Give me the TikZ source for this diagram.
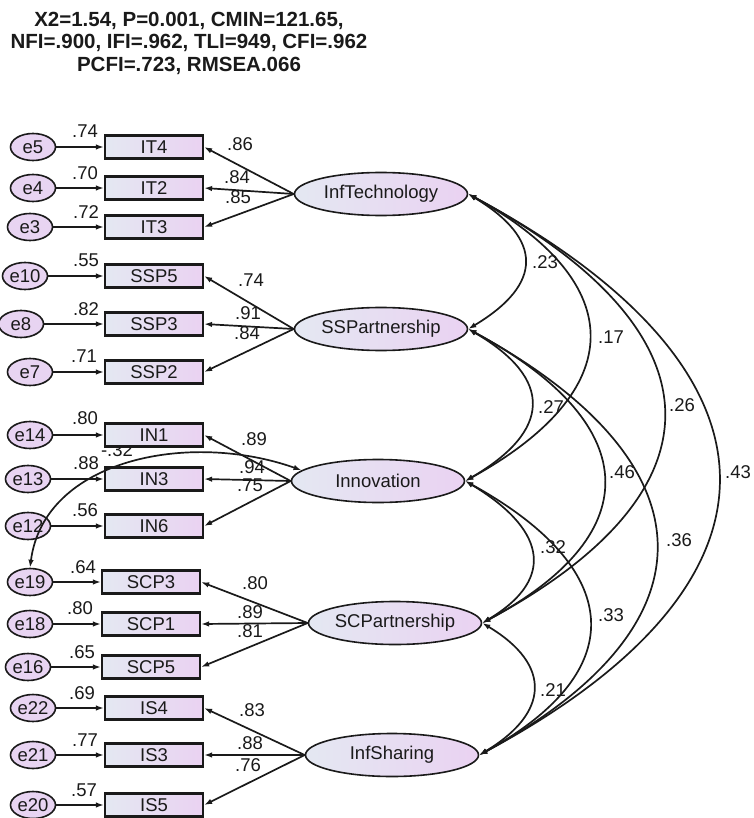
\documentclass[tikz,border=0pt]{standalone}
\usepackage{fontspec}
\setmainfont{Liberation Sans}
\usetikzlibrary{arrows.meta,shapes.geometric,positioning}
\definecolor{Ink}{HTML}{1A1A1A}
\definecolor{ShadeL}{HTML}{E4E8F2}
\definecolor{ShadeR}{HTML}{EAD2F2}
\definecolor{ErrFill}{HTML}{E8D4F2}

\begin{document}
\begin{tikzpicture}[
  x=1pt,y=-1pt,
  font=\fontsize{18.5}{20}\selectfont,
  obs/.style={rectangle,draw=Ink,line width=2.2pt,left color=ShadeL,right color=ShadeR,minimum width=98pt,minimum height=23pt,inner sep=0pt,text=Ink},
  lat/.style={ellipse,draw=Ink,line width=1.6pt,left color=ShadeL,right color=ShadeR,minimum width=173pt,minimum height=43pt,inner sep=0pt,text=Ink},
  err/.style={ellipse,draw=Ink,line width=1.6pt,fill=ErrFill,minimum width=45pt,minimum height=27pt,inner sep=0pt,text=Ink},
  val/.style={inner sep=0pt,text=Ink},
  arrow/.style={-{Latex[length=8pt,width=5.5pt]},line width=1.7pt,draw=Ink},
  cov/.style={{Latex[length=8pt,width=5.5pt]}-{Latex[length=8pt,width=5.5pt]},line width=1.7pt,draw=Ink}
]
\useasboundingbox (0,0) rectangle (753,818);
\node[font=\bfseries\fontsize{20.5}{22.5}\selectfont,align=center,text=Ink] (title) at (189,43) {X2=1.54, P=0.001, CMIN=121.65,\\NFI=.900, IFI=.962, TLI=949, CFI=.962\\PCFI=.723, RMSEA.066};
\node[val] (rIN) at (117,450) {-.32};

\node[lat] (tech) at (381,194) {InfTechnology};
\node[lat] (ssp) at (381,329) {SSPartnership};
\node[lat] (innov) at (378,481) {Innovation};
\node[lat] (scp) at (395,623) {SCPartnership};
\node[lat] (share) at (392,755) {InfSharing};

\node[obs] (IT4) at (154,147) {IT4};
\node[obs] (IT2) at (154,188) {IT2};
\node[obs] (IT3) at (154,227) {IT3};
\node[obs] (SSP5) at (154,276) {SSP5};
\node[obs] (SSP3) at (154,324) {SSP3};
\node[obs] (SSP2) at (154,372) {SSP2};
\node[obs] (IN1) at (154,435) {IN1};
\node[obs] (IN3) at (154,479) {IN3};
\node[obs] (IN6) at (154,526) {IN6};
\node[obs] (SCP3) at (151,582) {SCP3};
\node[obs] (SCP1) at (151,624) {SCP1};
\node[obs] (SCP5) at (151,667) {SCP5};
\node[obs] (IS4) at (154,708) {IS4};
\node[obs] (IS3) at (154,755) {IS3};
\node[obs] (IS5) at (154,805) {IS5};

\node[err] (e5) at (33,147) {e5};
\node[err] (e4) at (33,188) {e4};
\node[err] (e3) at (30,227) {e3};
\node[err] (e10) at (25,276) {e10};
\node[err] (e8) at (21,324) {e8};
\node[err] (e7) at (30,372) {e7};
\node[err] (e14) at (30,435) {e14};
\node[err] (e13) at (28,479) {e13};
\node[err] (e12) at (28,526) {e12};
\node[err] (e19) at (30,582) {e19};
\node[err] (e18) at (30,624) {e18};
\node[err] (e16) at (28,667) {e16};
\node[err] (e22) at (33,708) {e22};
\node[err] (e21) at (33,755) {e21};
\node[err] (e20) at (33,805) {e20};

\draw[arrow] (e5) -- (IT4);
\draw[arrow] (e4) -- (IT2);
\draw[arrow] (e3) -- (IT3);
\draw[arrow] (e10) -- (SSP5);
\draw[arrow] (e8) -- (SSP3);
\draw[arrow] (e7) -- (SSP2);
\draw[arrow] (e14) -- (IN1);
\draw[arrow] (e13) -- (IN3);
\draw[arrow] (e12) -- (IN6);
\draw[arrow] (e19) -- (SCP3);
\draw[arrow] (e18) -- (SCP1);
\draw[arrow] (e16) -- (SCP5);
\draw[arrow] (e22) -- (IS4);
\draw[arrow] (e21) -- (IS3);
\draw[arrow] (e20) -- (IS5);

\draw[arrow] (tech.west) -- (IT4.east);
\draw[arrow] (tech.west) -- (IT2.east);
\draw[arrow] (tech.west) -- (IT3.east);
\draw[arrow] (ssp.west) -- (SSP5.east);
\draw[arrow] (ssp.west) -- (SSP3.east);
\draw[arrow] (ssp.west) -- (SSP2.east);
\draw[arrow] (innov.west) -- (IN1.east);
\draw[arrow] (innov.west) -- (IN3.east);
\draw[arrow] (innov.west) -- (IN6.east);
\draw[arrow] (scp.west) -- (SCP3.east);
\draw[arrow] (scp.west) -- (SCP1.east);
\draw[arrow] (scp.west) -- (SCP5.east);
\draw[arrow] (share.west) -- (IS4.east);
\draw[arrow] (share.west) -- (IS3.east);
\draw[arrow] (share.west) -- (IS5.east);

\node[val] (r5) at (85,131) {.74};
\node[val] (r4) at (85,173) {.70};
\node[val] (r3) at (86,212) {.72};
\node[val] (r10) at (86,260) {.55};
\node[val] (r8) at (86,309) {.82};
\node[val] (r7) at (84,356) {.71};
\node[val] (r14) at (85,418) {.80};
\node[val] (r13) at (86,463) {.88};
\node[val] (r12) at (85,510) {.56};
\node[val] (r19) at (83,567) {.64};
\node[val] (r18) at (80,608) {.80};
\node[val] (r16) at (82,652) {.65};
\node[val] (r22) at (82,693) {.69};
\node[val] (r21) at (85,740) {.77};
\node[val] (r20) at (84,790) {.57};

\node[val] (lIT4) at (240,144) {.86};
\node[val] (lIT2) at (237,177) {.84};
\node[val] (lIT3) at (238,197) {.85};
\node[val] (lSSP5) at (251,280) {.74};
\node[val] (lSSP3) at (248,313) {.91};
\node[val] (lSSP2) at (247,333) {.84};
\node[val] (lIN1) at (254,439) {.89};
\node[val] (lIN3) at (252,467) {.94};
\node[val] (lIN6) at (250,485) {.75};
\node[val] (lSCP3) at (255,583) {.80};
\node[val] (lSCP1) at (250,612) {.89};
\node[val] (lSCP5) at (250,631) {.81};
\node[val] (lIS4) at (252,710) {.83};
\node[val] (lIS3) at (250,743) {.88};
\node[val] (lIS5) at (248,765) {.76};

\draw[cov] (tech.east) .. controls +(75,45) and +(75,-45) .. (ssp.east);
\draw[cov] (tech.east) .. controls +(163,90) and +(163,-90) .. (innov.east);
\draw[cov] (tech.east) .. controls +(251,135) and +(251,-135) .. (scp.east);
\draw[cov] (tech.east) .. controls +(326,175) and +(326,-175) .. (share.east);
\draw[cov] (ssp.east) .. controls +(86,50) and +(86,-50) .. (innov.east);
\draw[cov] (ssp.east) .. controls +(171,92) and +(171,-92) .. (scp.east);
\draw[cov] (ssp.east) .. controls +(243,132) and +(243,-132) .. (share.east);
\draw[cov] (innov.east) .. controls +(77,46) and +(77,-46) .. (scp.east);
\draw[cov] (innov.east) .. controls +(156,86) and +(156,-86) .. (share.east);
\draw[cov] (scp.east) .. controls +(70,42) and +(70,-42) .. (share.east);
\draw[cov] (innov.172) .. controls +(-113,-40) and +(14,-108) .. (e19.north);

\node[val] (c12) at (545,262) {.23};
\node[val] (c13) at (611,337) {.17};
\node[val] (c14) at (682,405) {.26};
\node[val] (c15) at (738,472) {.43};
\node[val] (c23) at (551,407) {.27};
\node[val] (c24) at (622,472) {.46};
\node[val] (c25) at (679,540) {.36};
\node[val] (c34) at (553,547) {.32};
\node[val] (c35) at (611,615) {.33};
\node[val] (c45) at (553,690) {.21};
\end{tikzpicture}
\end{document}
